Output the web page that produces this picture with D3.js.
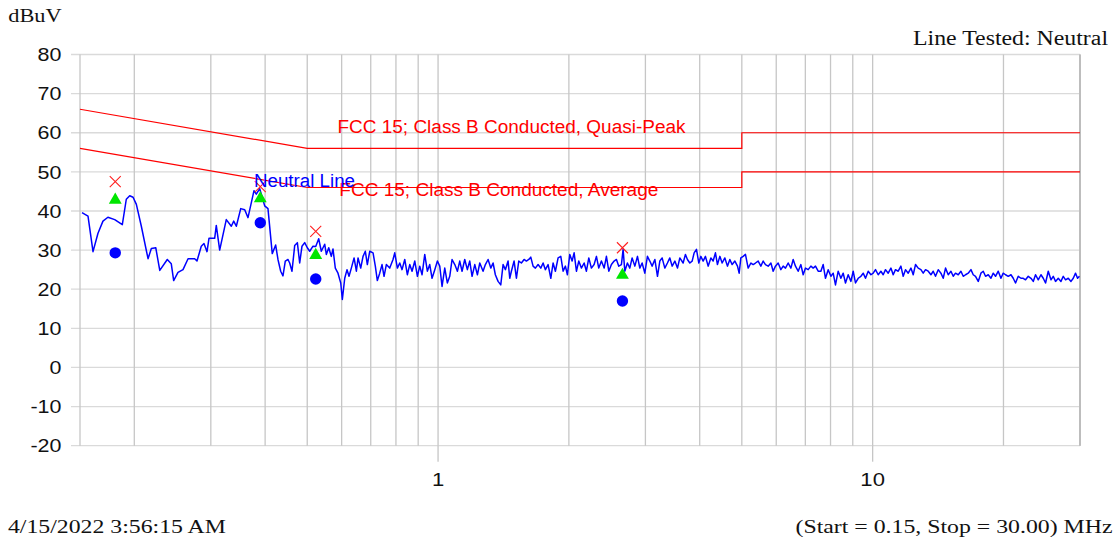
<!DOCTYPE html>
<html><head><meta charset="utf-8">
<script src="https://cdn.jsdelivr.net/npm/d3@7"></script>
<style>body{margin:0;background:#fff}svg{display:block}</style>
</head><body>
<svg id="c" width="1118" height="542"></svg>
<script>
// ---------- data ----------
const traceFreq = [
0.1516,0.1565,0.1607,0.1650,0.1694,0.1739,0.1803,0.1877,0.1917,0.1952,0.1987,0.2022,0.2076,0.2151,0.2189,0.2241,0.2289,0.2382,0.2433,0.2464,
0.2521,0.2589,0.2659,0.2754,0.2788,0.2852,0.2893,0.2940,0.2971,0.3062,0.3088,0.3144,0.3256,0.3344,0.3387,0.3434,0.3515,0.3590,0.3653,0.3771,
0.3817,0.3887,0.3991,0.4061,0.4154,0.4230,
0.4282,0.4344,0.4397,0.4451,0.4515,0.4556,0.4612,0.4679,0.4745,0.4804,0.4863,0.4933,0.5002,0.5066,0.5155,0.5230,0.5313,0.5387,0.5485,0.5532,
0.5603,0.5680,0.5731,0.5802,0.5885,0.5971,0.6022,0.6099,0.6173,0.6239,0.6316,0.6408,0.6487,0.6545,0.6638,0.6720,0.6802,0.6875,0.6963,0.7086,
0.7172,0.7249,0.7341,0.7431,0.7511,0.7603,0.7741,0.7877,0.7949,0.8061,0.8163,0.8263,0.8382,0.8498,0.8607,0.8713,0.8840,0.8963,0.9075,0.9187,
0.9319,0.9448,0.9569,0.9687,0.9828,0.9965,1.0090,1.0214,1.0361,1.0504,1.0639,1.0770,1.0927,1.1079,1.1218,1.1356,1.1519,1.1679,1.1828,1.1974,
1.2148,1.2318,1.2473,
1.2693,1.2849,1.3034,1.3224,1.3384,1.3547,1.3744,1.3941,1.4113,1.4286,1.4491,1.4622,1.4747,1.4961,1.5146,1.5335,1.5550,1.5776,1.5968,1.6172,
1.6343,1.6544,1.6746,1.6989,1.7234,1.7445,1.7659,1.7913,1.8174,1.8394,1.8619,1.8889,1.9161,1.9396,1.9634,1.9842,2.0096,2.0344,2.0562,2.0816,
2.1075,2.1370,2.1682,2.1946,2.2226,2.2534,2.2860,2.3143,2.3431,2.3761,2.4108,2.4400,2.4712,2.5054,2.5417,2.5731,2.6052,2.6418,2.6657,2.6898,
2.7271,2.7620,2.7961,2.8367,2.8764,2.9124,2.9482,2.9906,3.0320,3.0708,3.1088,3.1540,3.1980,3.2381,3.2778,3.3250,3.3711,3.4142,3.4564,3.5067,
3.5556,3.6002,
3.6638,3.7088,3.7481,3.7960,3.8429,3.8840,3.9320,3.9810,4.0240,4.0734,4.1235,4.1828,4.2437,4.2951,4.3476,4.3941,4.4504,4.5050,4.5698,4.6331,
4.6924,4.7504,4.8194,4.8867,4.9297,4.9743,5.0354,5.0972,5.1706,5.2459,5.3094,5.3743,5.4521,5.5306,5.5985,5.6672,5.7488,5.8326,5.9031,5.9753,
6.0618,6.1491,6.2245,6.3010,6.3917,6.4848,6.5632,6.6435,6.7397,6.8367,6.9206,7.0056,7.1064,7.2100,7.2972,7.3864,7.4933,7.6012,7.6945,7.7890,
7.9011,8.0162,8.1132,8.2124,8.3313,8.4513,8.5550,8.6601,8.7847,8.9127,9.0204,9.1308,9.2630,9.3962,9.5116,9.6284,9.7670,9.9093,10.029,10.152,
10.299,
10.447,10.575,10.705,10.859,11.017,11.150,11.286,11.450,11.615,11.757,11.902,12.073,12.249,12.397,12.549,12.730,12.914,13.072,13.233,13.423,
13.619,13.783,13.952,14.154,14.358,14.534,14.713,14.924,15.142,15.325,15.512,15.737,15.964,16.160,16.358,16.594,16.835,17.039,17.247,17.497,
17.748,17.966,18.187,18.449,18.717,18.944,19.175,19.453,19.733,19.975,20.220,20.511,20.810,21.062,21.319,21.628,21.940,22.209,22.482,22.806,
23.138,23.418,23.704,24.047,24.393,24.692,24.996,25.355,25.725,26.036,26.354,26.736,27.121,27.454,27.791,28.191,28.602,28.948,29.302,29.615,
29.912];
const traceLevel = [
39.6,38.7,29.6,34.3,37.4,38.4,37.8,36.5,43.0,43.9,43.5,41.7,36.1,27.8,30.4,30.6,24.8,27.6,26.5,22.2,
24.3,25.0,27.8,27.8,27.2,31.0,31.7,29.6,33.0,33.0,36.3,30.0,37.8,36.1,37.4,36.1,40.6,40.3,38.3,45.2,
44.3,45.7,41.3,40.6,29.1,31.3,
27.6,24.6,23.4,27.2,27.6,26.7,24.6,31.2,31.9,26.7,31.0,31.9,30.6,29.7,31.0,30.9,32.9,29.7,31.5,28.9,
30.6,28.4,30.3,25.4,24.1,21.6,17.4,22.8,25.0,23.3,25.4,28.0,24.6,28.0,25.4,28.4,29.7,26.3,29.7,29.3,
25.9,22.2,24.1,26.3,23.3,26.3,25.4,27.6,29.3,25.4,26.7,25.0,27.6,23.7,26.3,24.6,27.2,23.3,25.9,23.7,
28.9,24.6,26.3,22.8,25.0,27.2,25.9,20.7,25.4,21.6,23.3,27.6,26.3,24.6,27.2,24.6,27.6,25.0,27.2,23.3,
26.3,23.7,26.7,
24.6,26.3,27.6,25.4,26.7,23.7,22.0,21.1,26.3,25.0,27.2,22.8,24.6,27.2,22.8,27.2,26.7,27.6,27.2,27.6,
28.2,25.9,25.4,26.3,25.4,26.7,25.0,26.3,22.8,26.7,24.6,28.0,28.4,24.6,25.9,23.7,28.9,27.2,29.3,24.6,
27.2,25.4,26.7,24.6,28.0,25.4,26.3,28.4,25.4,27.2,25.4,28.4,24.6,26.3,27.2,27.6,25.9,26.3,30.2,24.6,
26.7,25.4,28.0,25.9,28.4,25.4,26.7,24.1,28.4,27.2,25.9,27.6,23.3,27.2,28.0,25.4,26.7,28.0,25.9,27.2,
25.4,28.0,
26.7,28.9,27.6,26.7,27.2,29.3,30.2,26.7,28.4,27.2,28.4,25.9,28.0,27.2,29.3,26.3,28.4,26.7,28.0,25.9,
27.6,26.3,27.2,25.9,24.1,28.0,28.4,28.9,25.4,26.7,26.3,26.7,27.2,25.9,27.2,26.3,25.9,26.7,24.6,25.9,
26.7,25.0,25.9,25.4,26.7,25.4,27.6,25.9,24.6,26.3,23.7,25.4,25.0,25.9,25.4,25.9,24.6,24.6,26.3,22.8,
25.0,23.3,24.1,21.1,24.6,22.8,24.1,21.6,23.7,22.0,24.6,21.6,22.8,23.3,24.1,22.8,24.6,23.7,24.1,25.0,
23.7,
24.6,23.7,25.0,24.1,25.4,23.7,25.0,24.6,25.9,23.3,25.0,24.1,25.4,23.7,26.3,25.4,25.0,24.1,25.0,24.6,
23.7,24.6,23.3,25.0,24.1,22.8,25.4,23.7,24.6,23.3,24.1,23.7,24.6,23.3,23.7,24.1,25.0,23.7,23.3,22.0,
24.1,24.6,23.3,23.7,22.8,24.1,23.3,24.6,22.8,24.1,23.7,23.3,23.7,22.8,21.6,23.3,22.8,22.8,22.4,23.3,
22.8,22.0,23.7,22.4,23.7,22.8,21.6,24.6,22.4,23.3,22.0,22.8,22.0,23.3,22.4,22.8,22.0,22.8,24.1,22.8,
23.3];
const limitFreq = [0.15, 0.5, 5, 5, 30];
const qpLimit = [66, 56, 56, 60, 60];
const avgLimit = [56, 46, 46, 50, 50];
const markFreq = [0.1808, 0.3899, 0.523, 2.656];
const peakMarks = [47.5, 46.2, 34.8, 30.6];
const qpMarks = [42.8, 43.2, 28.7, 23.6];
const avgMarks = [29.3, 37.0, 22.6, 17.0];
const yTicks = [80, 70, 60, 50, 40, 30, 20, 10, 0, -10, -20];
const xLabelTicks = [1, 10];
const xGridTicks = [0.15, 0.2, 0.3, 0.4, 0.5, 0.6, 0.7, 0.8, 0.9, 1, 2, 3, 4, 5, 6, 7, 8, 9, 10, 20, 30];
const labels = {
  yUnit: "dBuV",
  lineTested: "Line Tested: Neutral",
  date: "4/15/2022 3:56:15 AM",
  range: "(Start = 0.15, Stop = 30.00) MHz",
  qpName: "FCC 15; Class B Conducted, Quasi-Peak",
  avgName: "FCC 15; Class B Conducted, Average",
  traceName: "Neutral Line"
};

// ---------- layout ----------
const L = 80, R = 1080, T = 54.5, B = 445.7;
const sans = "'Liberation Sans', Arial, Helvetica, sans-serif";
const serif = "'Liberation Serif', 'Times New Roman', serif";
const svg = d3.select("#c");
const x = d3.scaleLog().domain([0.15, 30]).range([L, R]);
const y = d3.scaleLinear().domain([-20, 80]).range([B, T]);

function fit(sel, w) { sel.attr("textLength", w).attr("lengthAdjust", "spacingAndGlyphs"); }
function stretch(sel, k) {
  sel.each(function () { const n = this.getComputedTextLength(); d3.select(this).attr("textLength", n * k).attr("lengthAdjust", "spacingAndGlyphs"); });
}

// horizontal grid (with left tick stubs)
svg.append("g").selectAll("line").data(yTicks).join("line")
  .attr("x1", L - 9).attr("x2", R).attr("y1", d => y(d)).attr("y2", d => y(d))
  .attr("stroke", "#dadada").attr("stroke-width", 1.3);
// vertical grid
svg.append("g").selectAll("line").data(xGridTicks).join("line")
  .attr("x1", d => x(d)).attr("x2", d => x(d)).attr("y1", T).attr("y2", B)
  .attr("stroke", "#c6c6c6").attr("stroke-width", 1.3);
// right border
svg.append("line").attr("x1", R).attr("x2", R).attr("y1", T).attr("y2", B).attr("stroke", "#bdbdbd").attr("stroke-width", 2);
// x label ticks
svg.append("g").selectAll("line").data(xLabelTicks).join("line")
  .attr("x1", d => x(d)).attr("x2", d => x(d)).attr("y1", B).attr("y2", B + 16)
  .attr("stroke", "#c6c6c6").attr("stroke-width", 1.3);

// y tick labels
svg.append("g").selectAll("text").data(yTicks).join("text")
  .attr("x", 61.5).attr("y", d => y(d) + 6.7).attr("text-anchor", "end")
  .attr("font-family", sans).attr("font-size", 18.5).attr("fill", "#111")
  .text(d => d).call(stretch, 1.16);
// x tick labels
svg.append("g").selectAll("text").data(xLabelTicks).join("text")
  .attr("x", d => x(d)).attr("y", 486).attr("text-anchor", "middle")
  .attr("font-family", sans).attr("font-size", 19).attr("fill", "#111")
  .text(d => d).call(stretch, 1.16);

// limit lines
const line = d3.line().x(d => x(d[0])).y(d => y(d[1]));
[qpLimit, avgLimit].forEach(lim => {
  svg.append("path").datum(limitFreq.map((f, i) => [f, lim[i]]))
    .attr("d", line).attr("fill", "none").attr("stroke", "#ff0000").attr("stroke-width", 1.2);
});

// trace
svg.append("path").datum(traceFreq.map((f, i) => [f, traceLevel[i]]))
  .attr("d", line).attr("fill", "none").attr("stroke", "#0000ff").attr("stroke-width", 1.5)
  .attr("stroke-linejoin", "round");

// markers
const mk = svg.append("g");
markFreq.forEach((f, i) => {
  const cx = x(f);
  mk.append("circle").attr("cx", cx).attr("cy", y(avgMarks[i])).attr("r", 5.7).attr("fill", "#0000ff");
  mk.append("path").attr("transform", `translate(${cx},${y(qpMarks[i])})`)
    .attr("d", d3.symbol(d3.symbolTriangle, 72)()).attr("fill", "#00e600");
  const py = y(peakMarks[i]), s = 5.5;
  mk.append("path").attr("d", `M${cx - s},${py - s}L${cx + s},${py + s}M${cx - s},${py + s}L${cx + s},${py - s}`)
    .attr("stroke", "#ff2020").attr("stroke-width", 1.1).attr("fill", "none");
});

// series labels
svg.append("text").attr("x", 337.5).attr("y", 133.3).attr("font-family", sans).attr("font-size", 17.6)
  .attr("fill", "#ff0000").text(labels.qpName).call(fit, 348);
svg.append("text").attr("x", 339.3).attr("y", 196).attr("font-family", sans).attr("font-size", 17.6)
  .attr("fill", "#ff0000").text(labels.avgName).call(fit, 319);
svg.append("text").attr("x", 254).attr("y", 186.7).attr("font-family", sans).attr("font-size", 17.6)
  .attr("fill", "#0000ff").text(labels.traceName).call(fit, 101);

// header / footer
svg.append("text").attr("x", 8.3).attr("y", 21.7).attr("font-family", serif).attr("font-size", 18)
  .attr("fill", "#111").text(labels.yUnit).call(fit, 53.4);
svg.append("text").attr("x", 1108).attr("y", 45).attr("text-anchor", "end").attr("font-family", serif).attr("font-size", 20)
  .attr("fill", "#111").text(labels.lineTested).call(fit, 195);
svg.append("text").attr("x", 7.9).attr("y", 532.7).attr("font-family", serif).attr("font-size", 19.5)
  .attr("fill", "#111").text(labels.date).call(fit, 218);
svg.append("text").attr("x", 1112.5).attr("y", 532.7).attr("text-anchor", "end").attr("font-family", serif).attr("font-size", 19.5)
  .attr("fill", "#111").text(labels.range).call(fit, 317);
</script>
</body></html>
